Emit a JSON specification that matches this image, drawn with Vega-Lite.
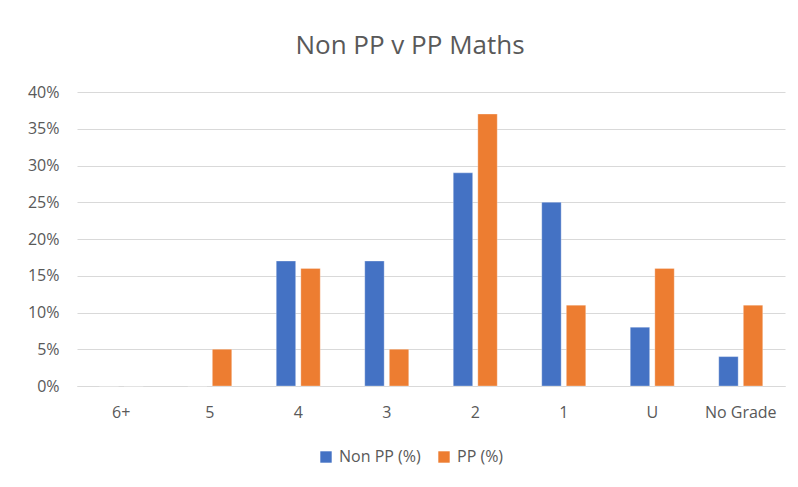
{
  "$schema": "https://vega.github.io/schema/vega-lite/v6.json",
  "width": 708,
  "height": 294,
  "autosize": "none",
  "padding": {"left": 77, "top": 92, "right": 13, "bottom": 101},
  "background": "white",
  "title": {
    "text": "Non PP v PP Maths",
    "anchor": "middle",
    "frame": "group",
    "baseline": "alphabetic",
    "offset": 4,
    "dx": -21,
    "font": "Open Sans",
    "fontSize": 26,
    "fontWeight": "normal",
    "color": "#595959"
  },
  "data": {
    "values": [
      {"grade": "6+", "series": "Non PP (%)", "value": 0},
      {"grade": "6+", "series": "PP (%)", "value": 0},
      {"grade": "5", "series": "Non PP (%)", "value": 0},
      {"grade": "5", "series": "PP (%)", "value": 0.05},
      {"grade": "4", "series": "Non PP (%)", "value": 0.17},
      {"grade": "4", "series": "PP (%)", "value": 0.16},
      {"grade": "3", "series": "Non PP (%)", "value": 0.17},
      {"grade": "3", "series": "PP (%)", "value": 0.05},
      {"grade": "2", "series": "Non PP (%)", "value": 0.29},
      {"grade": "2", "series": "PP (%)", "value": 0.37},
      {"grade": "1", "series": "Non PP (%)", "value": 0.25},
      {"grade": "1", "series": "PP (%)", "value": 0.11},
      {"grade": "U", "series": "Non PP (%)", "value": 0.08},
      {"grade": "U", "series": "PP (%)", "value": 0.16},
      {"grade": "No Grade", "series": "Non PP (%)", "value": 0.04},
      {"grade": "No Grade", "series": "PP (%)", "value": 0.11}
    ]
  },
  "mark": {"type": "bar", "stroke": "white", "strokeWidth": 0.5, "strokeOpacity": 0.6},
  "encoding": {
    "x": {
      "field": "grade",
      "type": "nominal",
      "sort": ["6+", "5", "4", "3", "2", "1", "U", "No Grade"],
      "scale": {"paddingInner": 0.503, "paddingOuter": 0.2515},
      "axis": {
        "title": null,
        "labelAngle": 0,
        "labelFont": "Open Sans",
        "labelFontSize": 16,
        "labelColor": "#595959",
        "labelPadding": 18,
        "domain": true,
        "domainColor": "#D9D9D9",
        "ticks": false,
        "grid": false
      }
    },
    "xOffset": {
      "field": "series",
      "type": "nominal",
      "scale": {"paddingInner": 0.21, "paddingOuter": 0}
    },
    "y": {
      "field": "value",
      "type": "quantitative",
      "scale": {"domain": [0, 0.4], "nice": false},
      "axis": {
        "title": null,
        "format": ".0%",
        "values": [0, 0.05, 0.1, 0.15, 0.2, 0.25, 0.3, 0.35, 0.4],
        "labelFont": "Open Sans",
        "labelFontSize": 16,
        "labelColor": "#595959",
        "labelPadding": 18,
        "domain": false,
        "ticks": false,
        "grid": true,
        "gridColor": "#D9D9D9",
        "gridWidth": 1
      }
    },
    "color": {
      "field": "series",
      "type": "nominal",
      "scale": {"domain": ["Non PP (%)", "PP (%)"], "range": ["#4472C4", "#ED7D31"]},
      "legend": {
        "title": null,
        "orient": "none",
        "direction": "horizontal",
        "legendX": 241,
        "legendY": 357,
        "padding": 0,
        "symbolType": "square",
        "symbolSize": 130,
        "symbolStrokeWidth": 0,
        "labelFont": "Open Sans",
        "labelFontSize": 16,
        "labelColor": "#595959",
        "labelOffset": 5,
        "columnPadding": 15
      }
    }
  },
  "config": {"view": {"stroke": null}}
}
